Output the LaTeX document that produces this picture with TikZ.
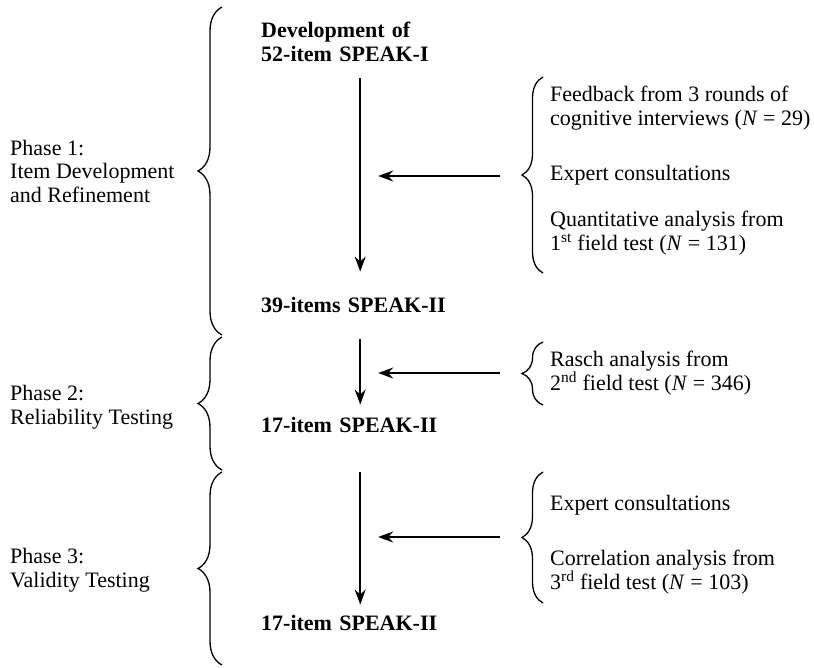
\documentclass[tikz,border=0pt]{standalone}
\usepackage{fontspec}
\setmainfont{Liberation Serif}
\usetikzlibrary{arrows.meta,decorations.pathreplacing}

\begin{document}
\begin{tikzpicture}[x=1pt,y=-1pt]
\tikzset{
stage/.style={anchor=base west,inner sep=0pt,text width=198pt,align=left,
  font={\fontsize{22pt}{24.5pt}\selectfont\bfseries}},
note/.style={anchor=base west,inner sep=0pt,align=left},
curly/.style={decorate,decoration={brace,amplitude=#1},line width=1.3pt},
flow/.style={line width=1.5pt,-{Stealth[length=15pt,width=11pt,inset=5pt]}},
font={\fontsize{22pt}{23.5pt}\selectfont}
}
\useasboundingbox (0,0) rectangle (814,667);

% stages
\node[stage] (s1) at (261,37) {Development of\\52-item SPEAK-I};
\node[stage] (s2) at (261,312) {39-items SPEAK-II};
\node[stage] (s3) at (261,432) {17-item SPEAK-II};
\node[stage] (s4) at (261,630) {17-item SPEAK-II};

% phases (placed at their last line)
\node[note] (p1) at (10,202) {Phase 1:\\Item Development\\and Refinement};
\node[note] (p2) at (10,424) {Phase 2:\\Reliability Testing};
\node[note] (p3) at (10,587) {Phase 3:\\Validity Testing};

% inputs
\node[note] (f1) at (550,125) {Feedback from 3 rounds of\\cognitive interviews (\textit{N} = 29)};
\node[note] (f2) at (550,180) {Expert consultations};
\node[note] (f3) at (550,250) {Quantitative analysis from\\1\textsuperscript{st} field test (\textit{N} = 131)};
\node[note] (f4) at (550,390) {Rasch analysis from\\2\textsuperscript{nd} field test (\textit{N} = 346)};
\node[note] (f5) at (550,510) {Expert consultations};
\node[note] (f6) at (550,589) {Correlation analysis from\\3\textsuperscript{rd} field test (\textit{N} = 103)};

\draw[curly=24pt] (222,335) -- (222,7);
\draw[curly=24pt] (222,470) -- (222,337);
\draw[curly=24pt] (222,665) -- (222,472);

\draw[curly=21pt] (543,273) -- (543,77);
\draw[curly=21pt] (543,405) -- (543,342);
\draw[curly=21pt] (543,603) -- (543,472);

\coordinate (t1) at (522,176);
\coordinate (t2) at (522,373);
\coordinate (t3) at (522,537);

\path[flow]
 (s1) edge[shorten <=16pt,shorten >=25pt] (s2)
 (s2) edge[shorten <=27pt,shorten >=12pt] (s3)
 (s3) edge[shorten <=40pt,shorten >=10pt] (s4)

 (t1) edge[shorten <=22pt,shorten >=18pt] (t1 -| s1)
 (t2) edge[shorten <=22pt,shorten >=18pt] (t2 -| s2)
 (t3) edge[shorten <=22pt,shorten >=18pt] (t3 -| s3)
;
\end{tikzpicture}
\end{document}
